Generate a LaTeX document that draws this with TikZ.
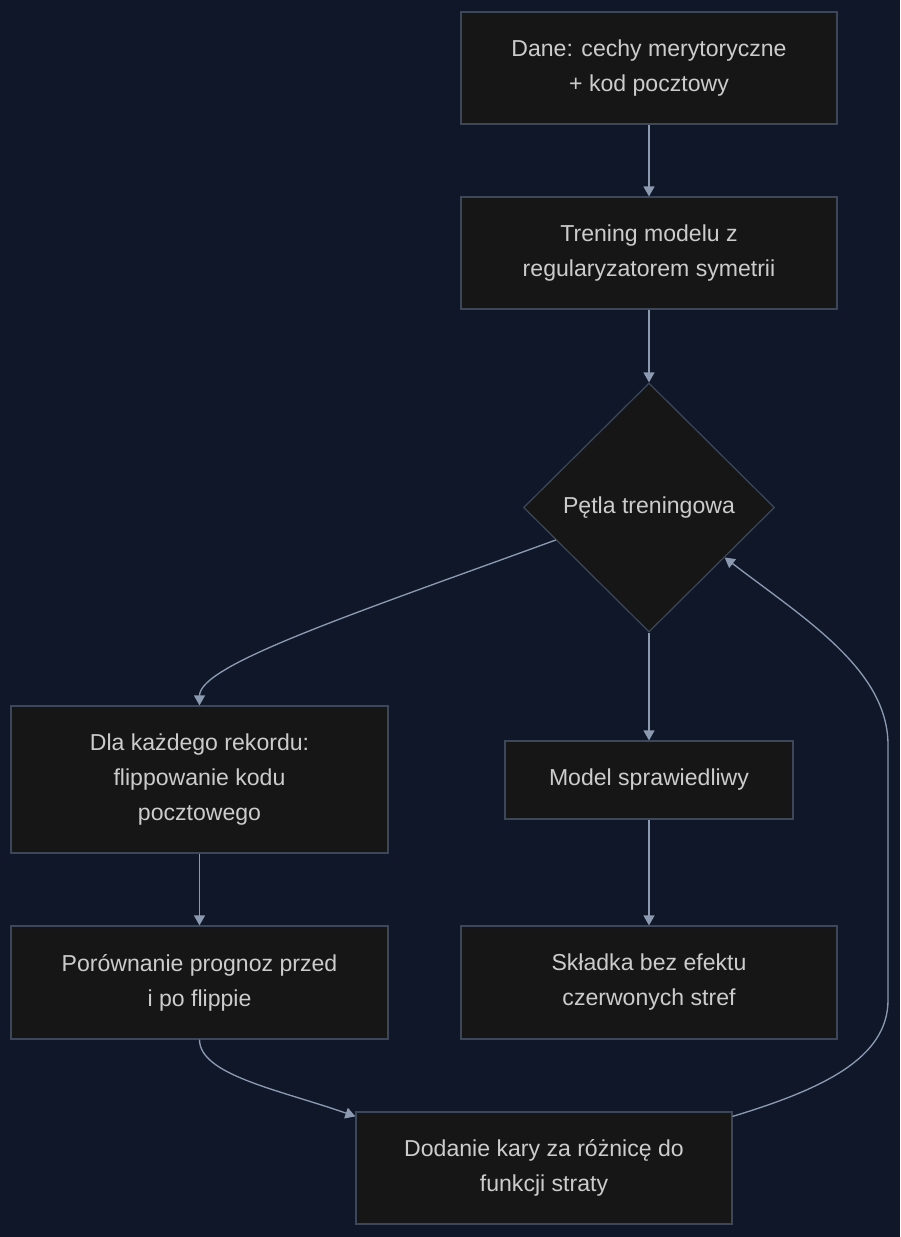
\documentclass[tikz,border=0pt]{standalone}
\usepackage{fontspec}
\setmainfont{Liberation Sans}
\usetikzlibrary{arrows.meta,shapes.geometric,calc}
\definecolor{bg}{HTML}{0F1729}
\definecolor{boxfill}{HTML}{161616}
\definecolor{boxline}{HTML}{3C4859}
\definecolor{edgecol}{HTML}{8B9AB0}
\definecolor{txt}{HTML}{CCCCCC}
\begin{document}
\begin{tikzpicture}[x=0.75pt,y=-0.75pt,
  box/.style={draw=boxline,fill=boxfill,line width=0.9pt,text=txt,
    font=\fontsize{17.3}{26.25}\selectfont,align=center,inner sep=0pt},
  dec/.style={box,diamond,aspect=1},
  conn/.style={draw=edgecol,line width=1pt,-{Triangle[length=7.5pt,width=8.25pt]}}]
\fill[bg] (0,0) rectangle (900,1237);
\useasboundingbox (0,0) rectangle (900,1237);

\node[box,minimum width=282pt,minimum height=84pt] (b1) at (649,68) {Dane: cechy merytoryczne\\+ kod pocztowy};
\node[box,minimum width=282pt,minimum height=84pt] (b2) at (649,253) {Trening modelu z\\regularyzatorem symetrii};
\node[dec,minimum width=188.25pt,minimum height=186.75pt] (d) at (649,507.5) {Pętla treningowa};
\node[box,minimum width=282.75pt,minimum height=110.25pt] (b3) at (199.5,779.5) {Dla każdego rekordu:\\flippowanie kodu\\pocztowego};
\node[box,minimum width=216pt,minimum height=58.5pt] (b4) at (649,780) {Model sprawiedliwy};
\node[box,minimum width=282.75pt,minimum height=84.75pt] (b5) at (199.5,982.5) {Porównanie prognoz przed\\i po flippie};
\node[box,minimum width=282pt,minimum height=84.75pt] (b6) at (649,982.5) {Składka bez efektu\\czerwonych stref};
\node[box,minimum width=282pt,minimum height=84pt] (b7) at (544,1168) {Dodanie kary za różnicę do\\funkcji straty};

\coordinate (r1) at (888,1000);
\coordinate (r2) at (888,745);

\draw[conn] (b1) -- (b2);
\draw[conn] (b2) -- (d);
\draw[conn] ($(d.west)!0.26!(d.south)$) .. controls (350,615) and (199.5,665) .. (b3.north);
\draw[conn] (d.south) -- (b4.north);
\draw[conn] (b4.south) -- (b6.north);
\draw[conn] (b3.south) -- (b5.north);
\draw[conn] (b5.south) .. controls (199.5,1075) and (280,1090) .. ($(b7.north west)+(0,5)$);
\draw[conn] ($(b7.north east)+(0,5)$) .. controls (823,1089) and (888,1058) .. (r1) -- (r2) .. controls (888,670) and (805,619) .. ($(d.east)!0.4!(d.south)$);
\end{tikzpicture}
\end{document}
